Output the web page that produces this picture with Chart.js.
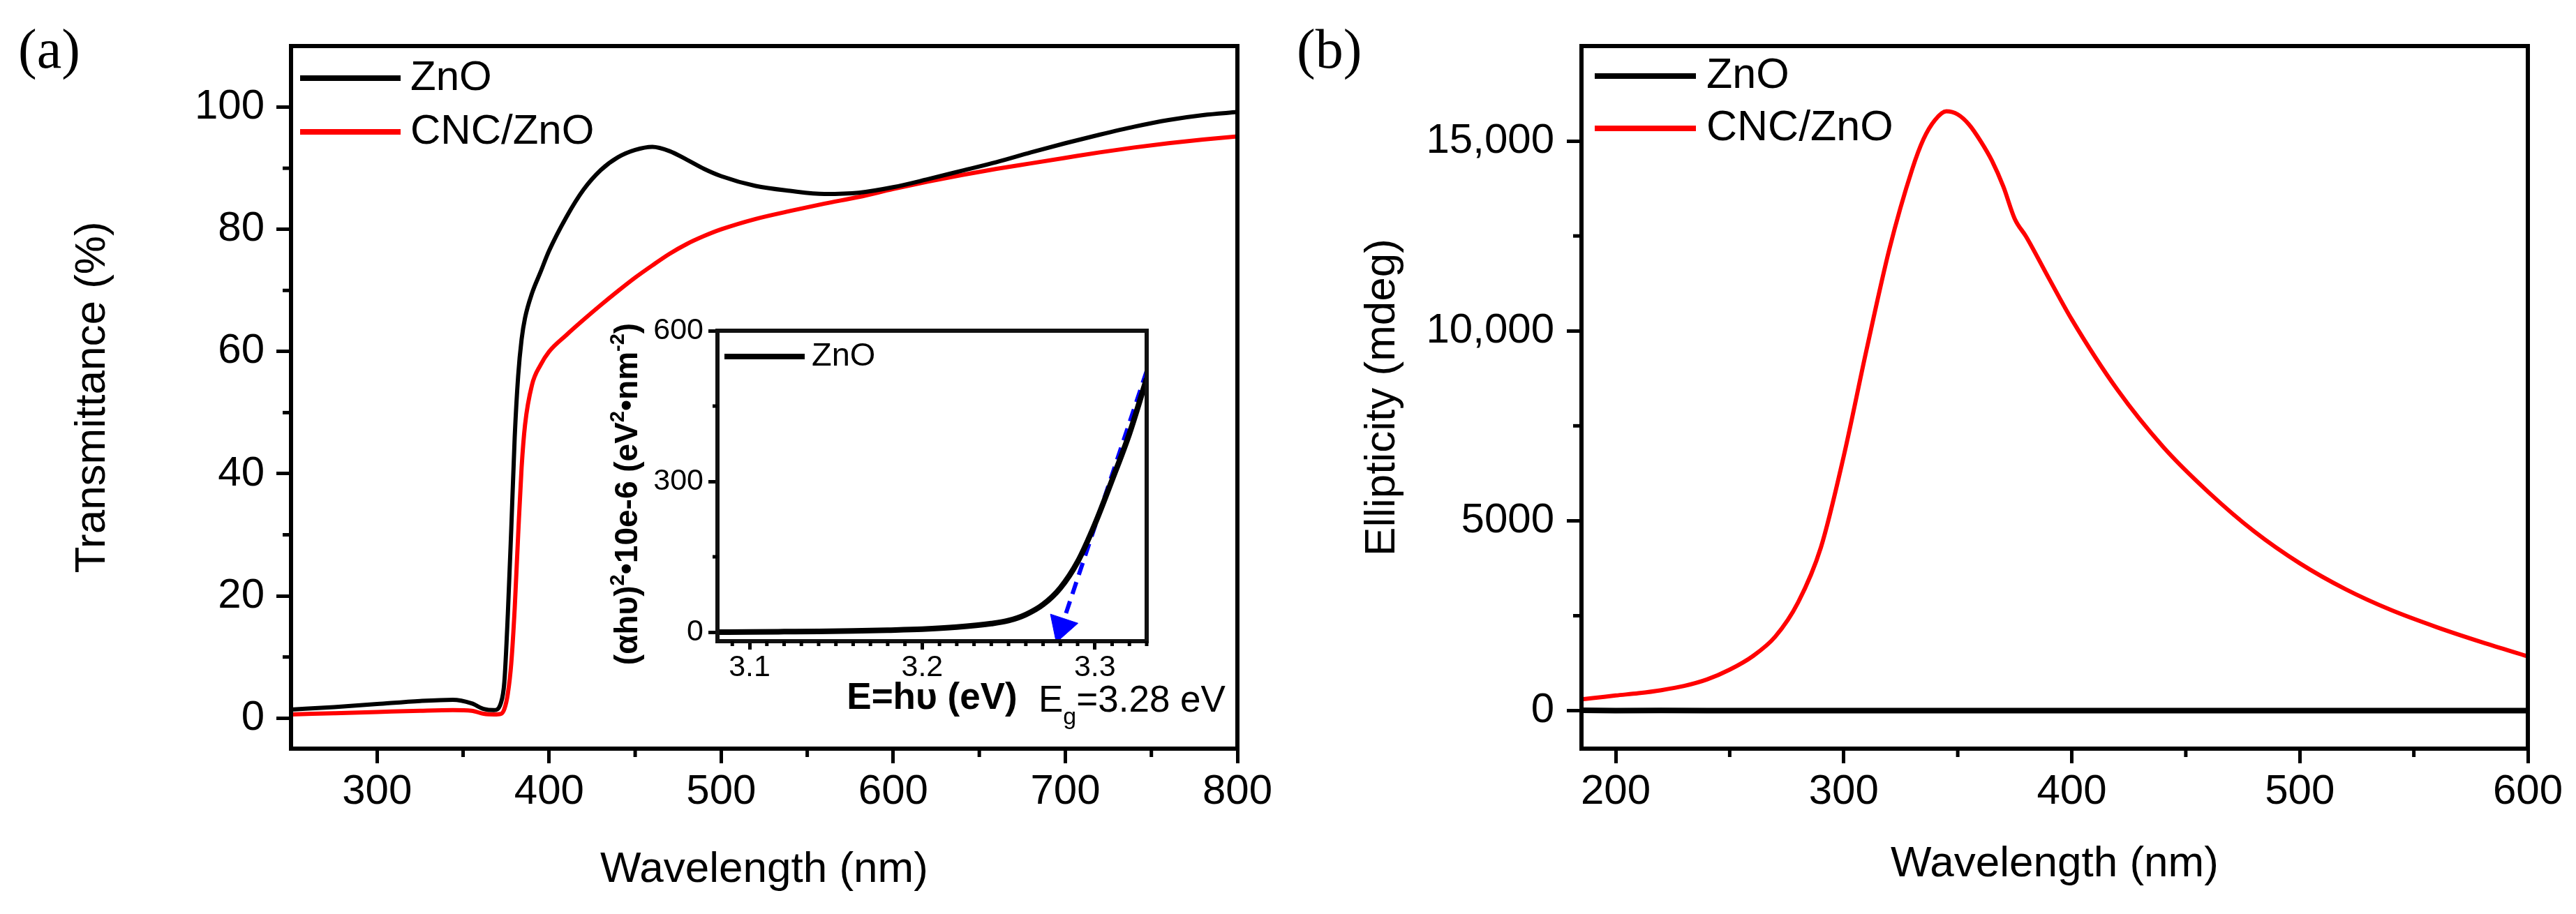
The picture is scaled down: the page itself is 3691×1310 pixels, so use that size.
<!DOCTYPE html>
<html>
<head>
<meta charset="utf-8">
<script src="https://cdn.jsdelivr.net/npm/chart.js@4.4.1/dist/chart.umd.min.js"></script>
<style>
  html, body { margin: 0; padding: 0; background: #fff; }
  #wrap { position: relative; width: 3691px; height: 1310px; overflow: hidden; background: #fff; }
  canvas { position: absolute; }
</style>
</head>
<body>
<div id="wrap">
  <canvas id="chartA" width="1840" height="1310" style="left:0;top:0"></canvas>
  <canvas id="chartB" width="1891" height="1310" style="left:1800px;top:0"></canvas>
  <canvas id="inset" width="920" height="640" style="left:860px;top:420px"></canvas>
</div>
<script>
// (a) transmittance, %
const wavelengthA = [250, 275, 300, 325, 344, 355, 362, 368, 372, 374, 376, 378, 380, 382, 384, 386, 390, 395, 400, 410,
  420, 430, 440, 450, 460, 470, 480, 490, 500, 520, 540, 560, 580, 600, 620, 640, 660, 680, 700, 720, 740, 760, 780, 800];
const transZnO = [1.4, 1.8, 2.3, 2.8, 3.0, 2.4, 1.5, 1.3, 2.5, 6, 17, 31, 46, 56, 62, 65.5, 69.5, 73, 76.5, 82,
  86.5, 89.7, 91.8, 93, 93.5, 92.8, 91.4, 89.9, 88.7, 87.1, 86.3, 85.8, 86.0, 86.9, 88.2, 89.6, 91.0, 92.6, 94.1, 95.5, 96.8, 97.9, 98.7, 99.2];
const transCNC = [0.6, 0.8, 1.0, 1.2, 1.3, 1.2, 0.7, 0.6, 0.7, 1.5, 4, 9, 18, 30, 41, 48, 54.5, 57.8, 60.0, 62.7,
  65.2, 67.6, 69.9, 72.1, 74.1, 76.0, 77.6, 78.9, 80.0, 81.7, 83.0, 84.2, 85.3, 86.6, 87.8, 88.9, 89.9, 90.8, 91.7, 92.6, 93.4, 94.1, 94.7, 95.2];
const ticksXA = [300, 400, 500, 600, 700, 800];
const ticksYA = [0, 20, 40, 60, 80, 100];
const minorXA = [350, 450, 550, 650, 750];
const minorYA = [10, 30, 50, 70, 90];

// (a) inset, Tauc plot
const photonEnergy = [3.0814, 3.10, 3.12, 3.14, 3.16, 3.18, 3.20, 3.22, 3.24, 3.25, 3.26, 3.27, 3.28, 3.29, 3.30, 3.31, 3.32, 3.33];
const taucZnO = [0, 0.5, 1, 1.5, 2.5, 4, 6, 10, 17, 23, 35, 55, 88, 140, 215, 303, 395, 505];
const fitE = [3.33, 3.2807];
const fitY = [520, 11];
const ticksXI = [3.1, 3.2, 3.3];
const ticksYI = [0, 300, 600];
const minorXI = [3.09, 3.11, 3.12, 3.13, 3.14, 3.15, 3.16, 3.17, 3.18, 3.19, 3.21, 3.22, 3.23, 3.24, 3.25, 3.26, 3.27, 3.28, 3.29, 3.31, 3.32, 3.33];
const minorYI = [150, 450];

// (b) CD ellipticity, mdeg
const wavelengthB = [185, 190, 200, 210, 220, 230, 240, 250, 260, 270, 280, 290, 300, 310, 320, 330, 335, 340, 345, 350,
  355, 360, 365, 370, 375, 380, 390, 400, 420, 440, 460, 480, 500, 520, 540, 560, 580, 600];
const ellipCNC = [300, 330, 400, 460, 540, 650, 820, 1080, 1430, 1950, 2850, 4300, 6700, 9500, 12150, 14250, 15050, 15550, 15780, 15700,
  15430, 15000, 14480, 13800, 12950, 12480, 11380, 10300, 8450, 6950, 5750, 4720, 3880, 3200, 2650, 2200, 1800, 1430];
const wavelengthZnOB = [185, 200, 220, 240, 300, 400, 500, 600];
const ellipZnO = [10, 0, 5, 0, 0, 0, 0, 0];
const ticksXB = [200, 300, 400, 500, 600];
const ticksYB = [0, 5000, 10000, 15000];
const tickLabelsYB = ['0', '5000', '10,000', '15,000'];
const minorXB = [250, 350, 450, 550];
const minorYB = [2500, 7500, 12500];

const SANS = '"Liberation Sans", Arial, sans-serif';
const SERIF = '"Liberation Serif", "Times New Roman", serif';
Chart.defaults.font.family = SANS;
Chart.defaults.color = '#000';

const pts = (xs, ys) => xs.map((x, i) => ({ x, y: ys[i] }));

function axis(o) {
  return {
    type: 'linear',
    position: o.position,
    min: o.min,
    max: o.max,
    afterBuildTicks: s => { s.ticks = o.ticks.map(v => ({ value: v })); },
    afterFit: s => { if (o.position === 'left') s.width = o.size; else s.height = o.size; },
    border: { display: false },
    grid: { drawOnChartArea: false, drawTicks: true, tickLength: o.tickLen, tickWidth: 5, tickColor: '#000' },
    ticks: {
      font: { size: o.font },
      padding: o.pad,
      autoSkip: false,
      maxRotation: 0,
      callback: (v, i) => o.labels ? o.labels[i] : String(v)
    },
    title: o.title ? {
      display: true,
      text: o.title,
      font: { size: o.titleSize, weight: o.titleWeight || 'normal' },
      padding: o.titlePad
    } : { display: false }
  };
}

// frame, minor ticks, legend and free text
const decor = {
  id: 'decor',
  afterDraw(chart, args, o) {
    const { ctx, chartArea: a, scales } = chart;
    ctx.save();
    ctx.strokeStyle = o.frameColor || '#000';
    ctx.lineWidth = o.frameWidth;
    ctx.strokeRect(a.left, a.top, a.right - a.left, a.bottom - a.top);

    ctx.strokeStyle = '#000';
    ctx.lineWidth = 5;
    for (const v of o.minorX) {
      const px = scales.x.getPixelForValue(v);
      ctx.beginPath(); ctx.moveTo(px, a.bottom); ctx.lineTo(px, a.bottom + o.minorLen); ctx.stroke();
    }
    for (const v of o.minorY) {
      const py = scales.y.getPixelForValue(v);
      ctx.beginPath(); ctx.moveTo(a.left, py); ctx.lineTo(a.left - o.minorLen, py); ctx.stroke();
    }

    const lg = o.legend;
    let row = 0;
    for (const ds of chart.data.datasets) {
      if (!ds.label) continue;
      const y = lg.y + row * lg.row;
      ctx.strokeStyle = ds.borderColor;
      ctx.lineWidth = lg.width;
      ctx.beginPath(); ctx.moveTo(lg.x, y); ctx.lineTo(lg.x + lg.len, y); ctx.stroke();
      ctx.fillStyle = '#000';
      ctx.font = lg.font;
      ctx.textAlign = 'left';
      ctx.textBaseline = 'middle';
      ctx.fillText(ds.label, lg.x + lg.len + lg.gap, y);
      row++;
    }

    for (const t of o.texts || []) {
      ctx.save();
      ctx.translate(t.x, t.y);
      if (t.rotate) ctx.rotate(t.rotate);
      ctx.textAlign = 'left';
      ctx.textBaseline = 'alphabetic';
      ctx.fillStyle = '#000';
      let w = 0;
      for (const r of t.runs) { ctx.font = r.font; w += ctx.measureText(r.t).width; }
      let cx = t.center ? -w / 2 : 0;
      for (const r of t.runs) {
        ctx.font = r.font;
        ctx.fillText(r.t, cx, r.dy || 0);
        cx += ctx.measureText(r.t).width;
      }
      ctx.restore();
    }
    ctx.restore();
  }
};

const common = {
  responsive: false,
  animation: false,
  devicePixelRatio: 1,
  events: [],
  elements: { point: { radius: 0 }, line: { cubicInterpolationMode: 'monotone' } },
};

// panel (a)
new Chart(document.getElementById('chartA'), {
  type: 'line',
  data: {
    datasets: [
      { label: 'ZnO', data: pts(wavelengthA, transZnO), borderColor: '#000', borderWidth: 6 },
      { label: 'CNC/ZnO', data: pts(wavelengthA, transCNC), borderColor: '#ff0000', borderWidth: 6 }
    ]
  },
  options: {
    ...common,
    layout: { padding: { left: 0, top: 66, right: 67, bottom: 0 } },
    scales: {
      x: axis({ position: 'bottom', min: 250, max: 800, ticks: ticksXA, size: 237, tickLen: 21, font: 60, pad: 5,
        title: 'Wavelength (nm)', titleSize: 62, titlePad: { top: 0, bottom: 26 } }),
      y: axis({ position: 'left', min: -5, max: 110, ticks: ticksYA, size: 417, tickLen: 21, font: 60, pad: 17,
        title: 'Transmittance (%)', titleSize: 62, titlePad: { top: 96, bottom: 0 } })
    },
    plugins: {
      legend: { display: false },
      tooltip: { enabled: false },
      decor: {
        frameWidth: 6, minorX: minorXA, minorY: minorYA, minorLen: 12,
        legend: { x: 430, y: 112, row: 77, len: 144, gap: 14, width: 8, font: '60px ' + SANS },
        texts: [{ x: 26, y: 97, runs: [{ t: '(a)', font: '80px ' + SERIF }] }]
      }
    }
  },
  plugins: [decor]
});

// panel (a) inset
new Chart(document.getElementById('inset'), {
  type: 'line',
  data: {
    datasets: [
      { label: 'ZnO', data: pts(photonEnergy, taucZnO), borderColor: '#000', borderWidth: 8 },
      { data: pts(fitE, fitY), borderColor: '#0000ff', borderWidth: 6, borderDash: [18, 11], cubicInterpolationMode: 'default' },
      {
        data: pts(fitE.slice(1), fitY.slice(1)), showLine: false,
        pointStyle: 'triangle', pointRadius: 24, backgroundColor: '#0000ff', borderColor: '#0000ff', borderWidth: 1,
        pointRotation: ctx => {
          const { x, y } = ctx.chart.scales;
          const dx = x.getPixelForValue(fitE[1]) - x.getPixelForValue(fitE[0]);
          const dy = y.getPixelForValue(fitY[1]) - y.getPixelForValue(fitY[0]);
          return Math.atan2(dx, -dy) * 180 / Math.PI;
        }
      }
    ]
  },
  options: {
    ...common,
    layout: { padding: { left: 0, top: 54, right: 137, bottom: 0 } },
    scales: {
      x: axis({ position: 'bottom', min: 3.0814, max: 3.33, ticks: ticksXI, size: 141, tickLen: 12, font: 43, pad: 0,
        title: 'E=h\u03c5 (eV)', titleSize: 53, titleWeight: 'bold', titlePad: { top: 0, bottom: 27 } }),
      y: axis({ position: 'left', min: -18, max: 600, ticks: ticksYI, size: 168, tickLen: 13, font: 43, pad: 7 })
    },
    plugins: {
      legend: { display: false },
      tooltip: { enabled: false },
      decor: {
        frameWidth: 6, frameColor: '#111', minorX: minorXI, minorY: minorYI, minorLen: 7,
        legend: { x: 178, y: 91, row: 60, len: 115, gap: 10, width: 8, font: '47px ' + SANS },
        texts: [
          {
            x: 628, y: 600, runs: [
              { t: 'E', font: '53px ' + SANS },
              { t: 'g', font: '34px ' + SANS, dy: 18 },
              { t: '=3.28 eV', font: '53px ' + SANS }
            ]
          },
          {
            x: 53, y: 288, rotate: -Math.PI / 2, center: true, runs: [
              { t: '(\u03b1h\u03c5)', font: 'bold 46px ' + SANS },
              { t: '2', font: 'bold 29px ' + SANS, dy: -19 },
              { t: '\u202210e-6 (eV', font: 'bold 46px ' + SANS },
              { t: '2', font: 'bold 29px ' + SANS, dy: -19 },
              { t: '\u2022nm', font: 'bold 46px ' + SANS },
              { t: '-2', font: 'bold 29px ' + SANS, dy: -19 },
              { t: ')', font: 'bold 46px ' + SANS }
            ]
          }
        ]
      }
    }
  },
  plugins: [decor]
});

// panel (b)
new Chart(document.getElementById('chartB'), {
  type: 'line',
  data: {
    datasets: [
      { label: 'ZnO', data: pts(wavelengthZnOB, ellipZnO), borderColor: '#000', borderWidth: 8, cubicInterpolationMode: 'default' },
      { label: 'CNC/ZnO', data: pts(wavelengthB, ellipCNC), borderColor: '#ff0000', borderWidth: 6 }
    ]
  },
  options: {
    ...common,
    layout: { padding: { left: 0, top: 66, right: 69, bottom: 0 } },
    scales: {
      x: axis({ position: 'bottom', min: 185, max: 600, ticks: ticksXB, size: 237, tickLen: 21, font: 60, pad: 5,
        title: 'Wavelength (nm)', titleSize: 62, titlePad: { top: 0, bottom: 34 } }),
      y: axis({ position: 'left', min: -1000, max: 17500, ticks: ticksYB, labels: tickLabelsYB, size: 466, tickLen: 21, font: 60, pad: 18,
        title: 'Ellipticity (mdeg)', titleSize: 62, titlePad: { top: 144, bottom: 0 } })
    },
    plugins: {
      legend: { display: false },
      tooltip: { enabled: false },
      decor: {
        frameWidth: 6, minorX: minorXB, minorY: minorYB, minorLen: 12,
        legend: { x: 485, y: 109, row: 75, len: 145, gap: 15, width: 8, font: '61px ' + SANS },
        texts: [{ x: 58, y: 97, runs: [{ t: '(b)', font: '80px ' + SERIF }] }]
      }
    }
  },
  plugins: [decor]
});
</script>
</body>
</html>
